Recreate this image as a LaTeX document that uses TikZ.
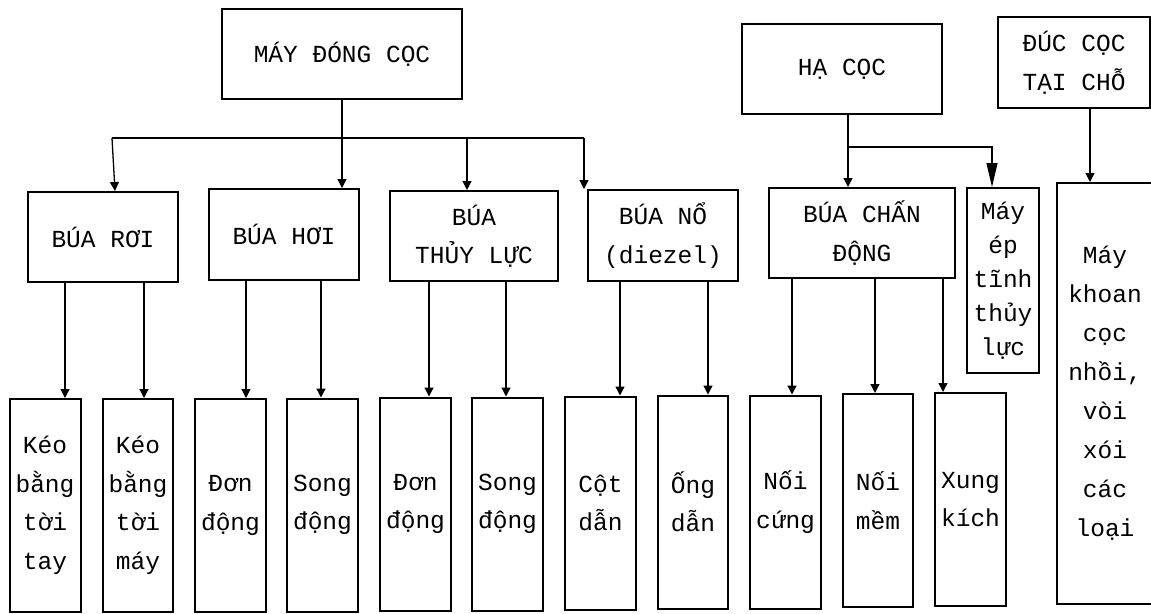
\documentclass[tikz,border=0pt]{standalone}
\usepackage{fontspec}
\setmonofont{Liberation Mono}
\usetikzlibrary{positioning, arrows.meta}

\begin{document}
\begin{tikzpicture}[
  x=1pt, y=-1pt,
  txt/.style={font=\ttfamily\fontsize{24.5}{38.5}\selectfont},
  group/.style={draw,line width=2pt,inner sep=0pt,align=center,minimum width=150pt,minimum height=90pt,txt},
  leaf/.style={draw,line width=2pt,inner sep=0pt,align=center,minimum width=71pt,minimum height=213pt,txt},
  arrow/.style={-{Triangle[width=9pt,length=9pt]},line width=1.3pt},
  bigarrow/.style={-{Triangle[width=11pt,length=24pt]},line width=1.3pt},
]
\useasboundingbox (0,0) rectangle (1151,613);
\fill[white] (0,0) rectangle (1151,613);

% top level
\node[group,minimum width=240pt] (dong) at (342,54) {MÁY ĐÓNG CỌC};
\node[group,minimum width=200pt] (ha) at (842,69) {HẠ CỌC};
\node[group,minimum width=152pt,minimum height=91pt] (duc) at (1074,62.5) {ĐÚC CỌC\\TẠI CHỖ};

% second level
\node[group] (roi) at (103,237) {BÚA RƠI};
\node[group,minimum height=91pt] (hoi) at (284,234.5) {BÚA HƠI};
\node[group,minimum width=168pt] (thuy) at (474,236) {BÚA\\THỦY LỰC};
\node[group,minimum height=91pt] (no) at (663,235.5) {BÚA NỔ\\(diezel)};
\node[group,minimum width=186pt] (chan) at (862,233) {BÚA CHẤN\\ĐỘNG};
\node[group,minimum width=72pt,minimum height=185pt,font=\ttfamily\fontsize{24.5}{34}\selectfont] (ep) at (1003,280.5) {Máy\\ép\\tĩnh\\thủy\\lực};
\node[group,minimum width=96pt,minimum height=421pt,font=\ttfamily\fontsize{24.5}{39}\selectfont] (khoan) at (1105,393.5) {Máy\\khoan\\cọc\\nhồi,\\vòi\\xói\\các\\loại};

% leaves
\node[leaf] (k1) at (45,505.5) {Kéo\\bằng\\tời\\tay};
\node[leaf,minimum width=70pt] (k2) at (138,505.5) {Kéo\\bằng\\tời\\máy};
\node[leaf] (d1) at (230.5,505.5) {Đơn\\động};
\node[leaf] (s1) at (322.5,505) {Song\\động};
\node[leaf] (d2) at (415.5,504) {Đơn\\động};
\node[leaf] (s2) at (507.5,504) {Song\\động};
\node[leaf] (cot) at (600.5,503) {Cột\\dẫn};
\node[leaf,minimum width=70pt] (ong) at (693,502) {Ống\\dẫn};
\node[leaf] (nc) at (785.5,502) {Nối\\cứng};
\node[leaf,minimum width=70pt] (nm) at (878,500.5) {Nối\\mềm};
\node[leaf] (xk) at (970.5,499.5) {Xung\\kích};

% connectors
\coordinate (busL) at (112,138);
\coordinate (busR) at (584,138);
\coordinate (haJ) at (848,147);

\draw[line width=1.3pt] (busL) -- (busR);
\draw[arrow] (dong.south) -- (dong.south |- hoi.north);
\draw[arrow] (busL) -- ([xshift=12pt]roi.north);
\draw[arrow] ([xshift=-7pt]thuy.north |- busL) -- ([xshift=-7pt]thuy.north);
\draw[arrow] (busR) -- (busR |- no.north);

\draw[arrow] ([xshift=6pt]ha.south) -- ([xshift=6pt]ha.south |- chan.north);
\draw[bigarrow] (haJ) -| ([xshift=-11pt]ep.north);
\draw[arrow] ([xshift=16pt]duc.south) -- ([xshift=16pt]duc.south |- khoan.north);

\foreach \p/\c/\s in {roi/k1/20, roi/k2/6, hoi/d1/15.5, hoi/s1/-1.5, thuy/d2/13.5, thuy/s2/-1.5,
                      no/cot/19.5, no/ong/15, chan/nc/6.5, chan/nm/-3, chan/xk/-27.5} {
  \draw[arrow] ([xshift=\s pt]\c.north |- \p.south) -- ([xshift=\s pt]\c.north);
}

\end{tikzpicture}
\end{document}
